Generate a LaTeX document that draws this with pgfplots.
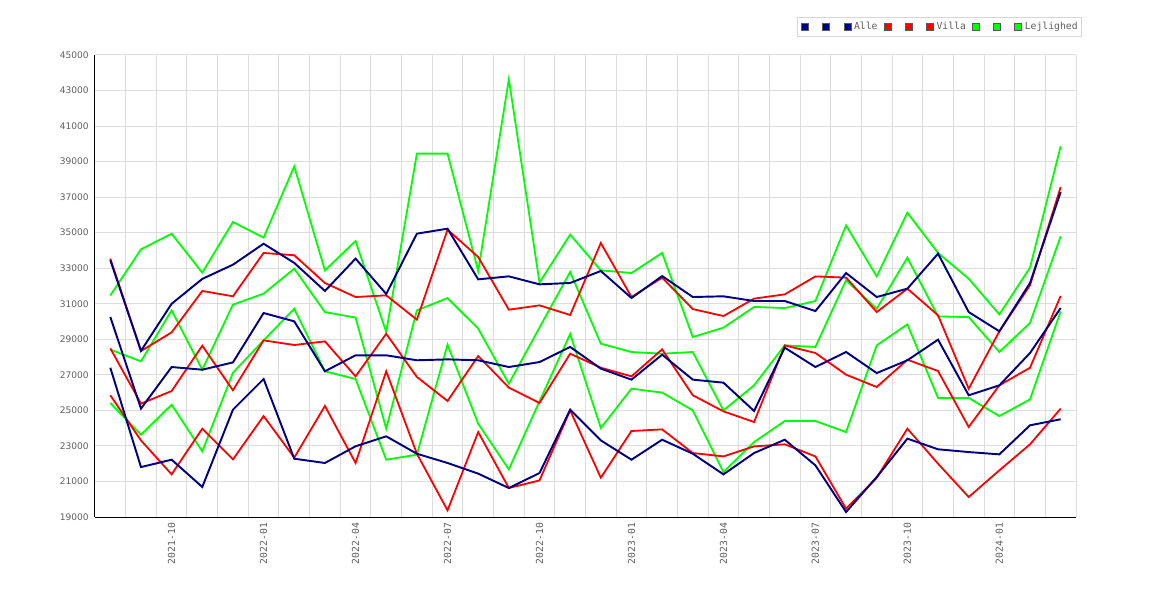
\documentclass[border=0pt]{standalone}
\usepackage{pgfplots}
\pgfplotsset{compat=1.18}
\usepackage{pgfplotstable}
\usepackage{fontspec}
\setmainfont{DejaVu Sans}
\newfontfamily\monofont{DejaVu Sans Mono}
\definecolor{cAlle}{RGB}{0,0,128}
\definecolor{cVilla}{RGB}{255,0,0}
\definecolor{cLejl}{RGB}{0,255,0}
\definecolor{tickgray}{RGB}{95,95,95}
\definecolor{gridgray}{RGB}{221,221,221}
\definecolor{legborder}{RGB}{90,90,90}
\definecolor{legbox}{RGB}{215,215,215}

\pgfplotstableread{
m hi mid lo
0 33450 30255 27400
1 28350 25100 21810
2 31000 27440 22225
3 32400 27290 20690
4 33200 27700 25040
5 34380 30480 26765
6 33300 30010 22280
7 31720 27200 22040
8 33540 28100 22980
9 31550 28100 23540
10 34945 27820 22560
11 35226 27870 22040
12 32374 27820 21440
13 32543 27440 20630
14 32093 27720 21475
15 32170 28570 25040
16 32844 27350 23310
17 31325 26730 22225
18 32560 28135 23350
19 31380 26730 22560
20 31420 26560 21400
21 31155 24965 22600
22 31155 28530 23350
23 30590 27440 21905
24 32730 28285 19280
25 31380 27100 21250
26 31850 27820 23410
27 33820 28980 22810
28 30535 25850 22655
29 29450 26410 22525
30 32170 28230 24160
31 37290 30760 24500
}\alle

\pgfplotstableread{
m hi mid lo
0 33540 28490 25850
1 28340 25380 23310
2 29390 26090 21400
3 31720 28640 23970
4 31420 26130 22240
5 33860 28940 24680
6 33730 28680 22340
7 32170 28885 25250
8 31380 26915 22040
9 31474 29310 27200
10 30105 26880 22560
11 35170 25530 19375
12 33630 28060 23780
13 30667 26280 20630
14 30910 25415 21060
15 30367 28190 25000
16 34420 27400 21210
17 31380 26915 23840
18 32470 28435 23930
19 30700 25850 22600
20 30310 24945 22410
21 31290 24345 22975
22 31530 28660 23090
23 32540 28230 22410
24 32470 27010 19470
25 30535 26315 21210
26 31850 27850 23970
27 30350 27215 22000
28 26220 24065 20125
29 29450 26410 21625
30 32040 27400 23090
31 37570 31440 25100
}\villa

\pgfplotstableread{
m hi mid lo
0 31470 28420 25415
1 34060 27760 23630
2 34940 30630 25320
3 32750 27290 22690
4 35600 30950 27120
5 34720 31570 28940
6 38730 32975 30720
7 32880 30535 27200
8 34530 30220 26765
9 29410 23970 22225
10 39450 30630 22510
11 39450 31320 28700
12 32845 29600 24250
13 43630 26500 21680
14 32190 29660 25510
15 34890 32790 29300
16 32880 28755 24010
17 32730 28285 26220
18 33860 28190 26000
19 29130 28285 25000
20 29655 25000 21530
21 30820 26410 23220
22 30760 28660 24400
23 31155 28570 24400
24 35410 32320 23780
25 32540 30720 28660
26 36125 33590 29840
27 33860 30290 25700
28 32410 30250 25700
29 30400 28285 24680
30 33030 29920 25620
31 39860 34800 30570
}\lejl

\begin{document}
\begin{tikzpicture}
\path[use as bounding box] (-71.25pt,-62.25pt) rectangle (806.25pt,387.75pt);
\begin{axis}[
  at={(0pt,0pt)}, anchor=south west,
  scale only axis, width=735.75pt, height=346.5pt,
  xmin=-0.5, xmax=31.5, ymin=19000, ymax=45000,
  axis x line*=bottom, axis y line*=left,
  axis line style={-, black, line width=0.75pt},
  scaled y ticks=false,
  xtick={2,5,8,11,14,17,20,23,26,29},
  xticklabels={2021-10,2022-01,2022-04,2022-07,2022-10,2023-01,2023-04,2023-07,2023-10,2024-01},
  minor xtick={0.5,1.5,...,31.5},
  xminorgrids=true, xmajorgrids=false,
  ytick={19000,21000,...,45000},
  yticklabels={19000,21000,23000,25000,27000,29000,31000,33000,35000,37000,39000,41000,43000,45000},
  ymajorgrids=true,
  grid style={gridgray, line width=0.75pt},
  minor grid style={gridgray, line width=0.75pt},
  major tick length=0pt, minor tick length=0pt,
  xticklabel style={rotate=90, anchor=east, font=\monofont\fontsize{7.3}{8}\selectfont, text=tickgray, inner sep=0pt, xshift=-4.3pt},
  yticklabel style={anchor=east, font=\fontsize{6.8}{8}\selectfont, text=tickgray, inner sep=0pt, xshift=-4.5pt},
  legend columns=9,
  legend cell align=left,
  legend style={at={(axis description cs:0.7159,1.0816)}, anchor=north west,
    draw=legbox, line width=0.75pt, fill=white,
    font=\monofont\fontsize{7.3}{8}\selectfont, text=tickgray,
    inner xsep=2.6pt, inner ysep=3.5pt, nodes={inner sep=0pt},
    /tikz/every odd column/.append style={column sep=2.2pt},
    /tikz/every even column/.append style={column sep=4.6pt}},
  clip=false,
]
\addlegendimage{legend image code/.code={\draw[fill=cAlle, draw=legborder, line width=0.5pt] (0pt,-2.6pt) rectangle (5.25pt,2.6pt);}}
\addlegendentry{\hspace*{3.3pt}}
\addlegendimage{legend image code/.code={\draw[fill=cAlle, draw=legborder, line width=0.5pt] (0pt,-2.6pt) rectangle (5.25pt,2.6pt);}}
\addlegendentry{\hspace*{3.3pt}}
\addlegendimage{legend image code/.code={\draw[fill=cAlle, draw=legborder, line width=0.5pt] (0pt,-2.6pt) rectangle (5.25pt,2.6pt);}}
\addlegendentry{Alle}
\addlegendimage{legend image code/.code={\draw[fill=cVilla, draw=legborder, line width=0.5pt] (0pt,-2.6pt) rectangle (5.25pt,2.6pt);}}
\addlegendentry{\hspace*{3.3pt}}
\addlegendimage{legend image code/.code={\draw[fill=cVilla, draw=legborder, line width=0.5pt] (0pt,-2.6pt) rectangle (5.25pt,2.6pt);}}
\addlegendentry{\hspace*{3.3pt}}
\addlegendimage{legend image code/.code={\draw[fill=cVilla, draw=legborder, line width=0.5pt] (0pt,-2.6pt) rectangle (5.25pt,2.6pt);}}
\addlegendentry{Villa}
\addlegendimage{legend image code/.code={\draw[fill=cLejl, draw=legborder, line width=0.5pt] (0pt,-2.6pt) rectangle (5.25pt,2.6pt);}}
\addlegendentry{\hspace*{3.3pt}}
\addlegendimage{legend image code/.code={\draw[fill=cLejl, draw=legborder, line width=0.5pt] (0pt,-2.6pt) rectangle (5.25pt,2.6pt);}}
\addlegendentry{\hspace*{3.3pt}}
\addlegendimage{legend image code/.code={\draw[fill=cLejl, draw=legborder, line width=0.5pt] (0pt,-2.6pt) rectangle (5.25pt,2.6pt);}}
\addlegendentry{Lejlighed}

\addplot[forget plot, cLejl, line width=1.35pt] table[x=m, y=hi] {\lejl};
\addplot[forget plot, cLejl, line width=1.35pt] table[x=m, y=mid] {\lejl};
\addplot[forget plot, cLejl, line width=1.35pt] table[x=m, y=lo] {\lejl};
\addplot[forget plot, cVilla, line width=1.35pt] table[x=m, y=hi] {\villa};
\addplot[forget plot, cVilla, line width=1.35pt] table[x=m, y=mid] {\villa};
\addplot[forget plot, cVilla, line width=1.35pt] table[x=m, y=lo] {\villa};
\addplot[forget plot, cAlle, line width=1.45pt] table[x=m, y=hi] {\alle};
\addplot[forget plot, cAlle, line width=1.45pt] table[x=m, y=mid] {\alle};
\addplot[forget plot, cAlle, line width=1.45pt] table[x=m, y=lo] {\alle};
\end{axis}
\end{tikzpicture}
\end{document}
